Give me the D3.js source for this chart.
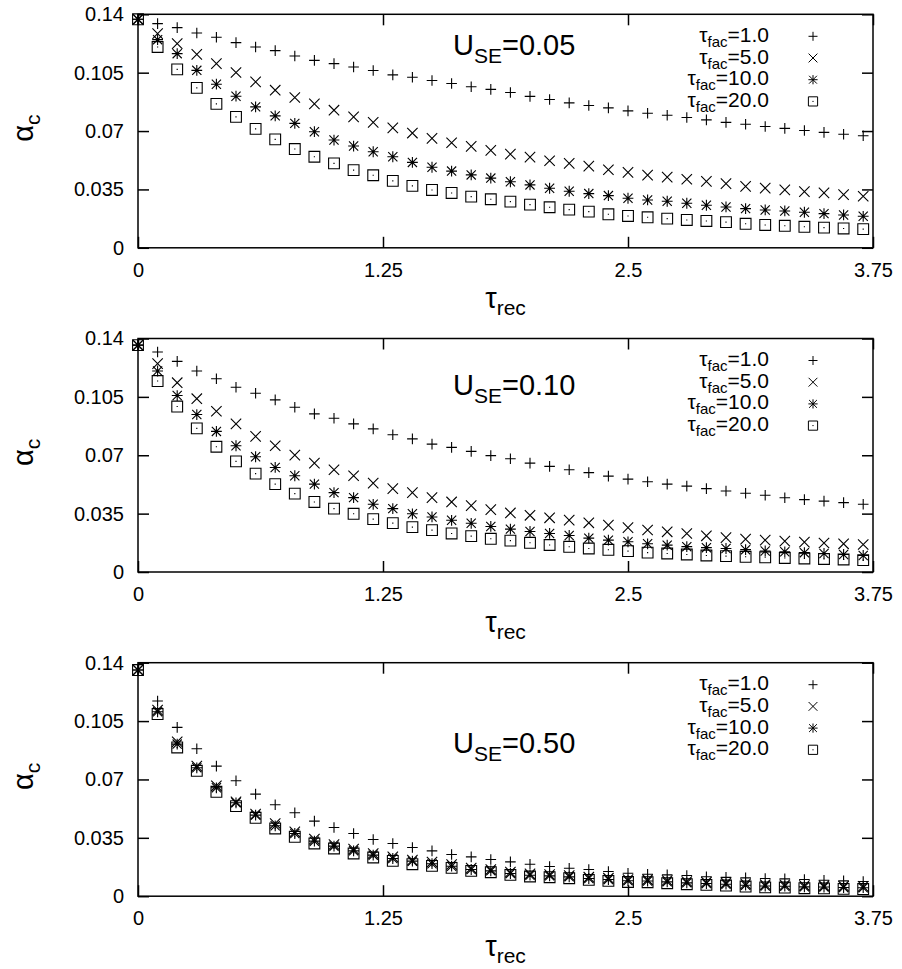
<!DOCTYPE html>
<html>
<head>
<meta charset="utf-8">
<script src="https://cdn.jsdelivr.net/npm/d3@7"></script>
<style>
    body { margin: 0; background: #fff; }
    svg text { font-family: "Liberation Sans", Arial, sans-serif; fill: #000; }
</style>
</head>
<body>
<svg id="chart" width="902" height="969"></svg>
<script>
// x grid (tau_rec) shared by every series
const tauRec = [0.0, 0.1, 0.2, 0.3, 0.4, 0.5, 0.6, 0.7, 0.8, 0.9, 1.0, 1.1, 1.2, 1.3, 1.4, 1.5, 1.6, 1.7, 1.8,
    1.9, 2.0, 2.1, 2.2, 2.3, 2.4, 2.5, 2.6, 2.7, 2.8, 2.9, 3.0, 3.1, 3.2, 3.3, 3.4, 3.5, 3.6, 3.7];

const xTicks = [0, 1.25, 2.5, 3.75];
const xTickLabels = ['0', '1.25', '2.5', '3.75'];
const yTicks = [0, 0.035, 0.07, 0.105, 0.14];
const yTickLabels = ['0', '0.035', '0.07', '0.105', '0.14'];

const useValues = ['0.05', '0.10', '0.50'];
const tauFac = ['1.0', '5.0', '10.0', '20.0'];

// U_SE = 0.05
const u05_f1 = [0.137, 0.1344, 0.132, 0.1288, 0.1262, 0.123, 0.1204, 0.1182, 0.115, 0.1124, 0.1104, 0.1084, 0.1063,
    0.1037, 0.1023, 0.1003, 0.0985, 0.0966, 0.095, 0.0931, 0.0908, 0.0889, 0.0869, 0.0853, 0.0839, 0.0821, 0.0807,
    0.0795, 0.0781, 0.0767, 0.0752, 0.0741, 0.0727, 0.0716, 0.0703, 0.0692, 0.0681, 0.0672];
const u05_f5 = [0.137, 0.1284, 0.1224, 0.116, 0.1104, 0.1051, 0.0995, 0.0945, 0.0901, 0.0863, 0.0825, 0.0785, 0.0752,
    0.0719, 0.0688, 0.0656, 0.063, 0.0608, 0.0584, 0.0562, 0.0544, 0.0522, 0.0506, 0.049, 0.0468, 0.0452, 0.0436,
    0.0424, 0.0411, 0.0398, 0.0385, 0.0368, 0.0358, 0.0347, 0.0337, 0.0329, 0.0319, 0.0309];
const u05_f10 = [0.137, 0.1248, 0.1164, 0.1064, 0.0981, 0.0909, 0.0845, 0.0791, 0.0746, 0.0696, 0.0646, 0.061, 0.0576,
    0.0546, 0.0512, 0.0483, 0.046, 0.0437, 0.0418, 0.0396, 0.0377, 0.0357, 0.0339, 0.0325, 0.0313, 0.0297, 0.0287,
    0.0279, 0.0267, 0.0255, 0.0245, 0.0235, 0.0227, 0.0221, 0.0213, 0.0205, 0.0197, 0.0189];
const u05_f20 = [0.137, 0.1204, 0.107, 0.0959, 0.0863, 0.0785, 0.0713, 0.065, 0.0592, 0.0546, 0.0506, 0.0466, 0.0435,
    0.0401, 0.0371, 0.0347, 0.0329, 0.0307, 0.0291, 0.0277, 0.0259, 0.0243, 0.0229, 0.0217, 0.0201, 0.0191, 0.0183,
    0.0175, 0.0167, 0.0161, 0.0154, 0.0144, 0.0137, 0.0132, 0.0126, 0.0121, 0.0116, 0.0112];

// U_SE = 0.10
const u10_f1 = [0.136, 0.1319, 0.1263, 0.1205, 0.1159, 0.1108, 0.1072, 0.1032, 0.0988, 0.0948, 0.0922, 0.0888, 0.0858,
    0.0823, 0.0798, 0.0767, 0.0747, 0.0723, 0.0698, 0.0679, 0.0653, 0.0633, 0.0613, 0.0596, 0.0575, 0.0557, 0.0541,
    0.0527, 0.0515, 0.05, 0.0486, 0.0472, 0.046, 0.0445, 0.0434, 0.0425, 0.0416, 0.0406];
const u10_f5 = [0.136, 0.1249, 0.1135, 0.1039, 0.0964, 0.0888, 0.0813, 0.0757, 0.0701, 0.0653, 0.0613, 0.0577, 0.0533,
    0.05, 0.0476, 0.0446, 0.042, 0.0398, 0.0374, 0.0354, 0.034, 0.0325, 0.0311, 0.0295, 0.0281, 0.0266, 0.0252,
    0.0241, 0.0231, 0.0217, 0.0206, 0.0197, 0.0191, 0.0185, 0.0179, 0.0174, 0.0169, 0.0165];
const u10_f10 = [0.136, 0.1205, 0.1058, 0.0944, 0.0843, 0.0757, 0.0691, 0.0627, 0.0577, 0.0527, 0.0476, 0.0446,
    0.0406, 0.038, 0.0349, 0.033, 0.031, 0.0292, 0.0273, 0.0257, 0.0243, 0.0231, 0.0219, 0.0203, 0.0191, 0.0181,
    0.0169, 0.0161, 0.0152, 0.0146, 0.0141, 0.0134, 0.0126, 0.0121, 0.0116, 0.0111, 0.0105, 0.0099];
const u10_f20 = [0.136, 0.1145, 0.0992, 0.0861, 0.0751, 0.0663, 0.059, 0.0527, 0.047, 0.042, 0.038, 0.0349, 0.0317,
    0.0293, 0.0269, 0.0251, 0.0231, 0.0215, 0.0199, 0.0188, 0.0175, 0.0162, 0.0151, 0.0141, 0.0133, 0.0125, 0.0116,
    0.0111, 0.0105, 0.0099, 0.0095, 0.0091, 0.0088, 0.0084, 0.0081, 0.0078, 0.0075, 0.0071];

// U_SE = 0.50
const u50_f1 = [0.1356, 0.117, 0.1012, 0.0884, 0.078, 0.0692, 0.0612, 0.0548, 0.05, 0.045, 0.0412, 0.0376, 0.034,
    0.0316, 0.0292, 0.0272, 0.025, 0.0236, 0.022, 0.0206, 0.0192, 0.0178, 0.0168, 0.016, 0.0148, 0.0138, 0.0132,
    0.0128, 0.0124, 0.0117, 0.0113, 0.011, 0.0106, 0.0104, 0.01, 0.0096, 0.0092, 0.0088];
const u50_f5 = [0.1356, 0.1116, 0.0926, 0.078, 0.0662, 0.0566, 0.0492, 0.0436, 0.0386, 0.0342, 0.031, 0.0282, 0.0256,
    0.0236, 0.0216, 0.0205, 0.019, 0.0168, 0.016, 0.0144, 0.0134, 0.013, 0.0124, 0.0114, 0.0108, 0.01, 0.0099,
    0.0094, 0.0088, 0.0084, 0.008, 0.0074, 0.0069, 0.0068, 0.0064, 0.0063, 0.006, 0.0059];
const u50_f10 = [0.1356, 0.1106, 0.0912, 0.077, 0.065, 0.056, 0.0486, 0.0422, 0.0376, 0.033, 0.03, 0.0272, 0.0246,
    0.0226, 0.021, 0.0195, 0.018, 0.016, 0.0152, 0.0136, 0.0126, 0.0122, 0.0116, 0.0106, 0.01, 0.0093, 0.0091,
    0.0086, 0.008, 0.0076, 0.0072, 0.0066, 0.0061, 0.006, 0.0056, 0.0055, 0.0052, 0.0051];
const u50_f20 = [0.1356, 0.1092, 0.0892, 0.0752, 0.0626, 0.054, 0.047, 0.0406, 0.0356, 0.0316, 0.0286, 0.0256, 0.0232,
    0.0212, 0.0192, 0.0182, 0.017, 0.0152, 0.0144, 0.0128, 0.0118, 0.0114, 0.0108, 0.0098, 0.0092, 0.0085, 0.0084,
    0.0078, 0.0072, 0.0068, 0.0064, 0.0058, 0.0053, 0.0052, 0.0048, 0.0047, 0.0044, 0.0043];

const panels = [
    { use: useValues[0], series: [u05_f1, u05_f5, u05_f10, u05_f20] },
    { use: useValues[1], series: [u10_f1, u10_f5, u10_f10, u10_f20] },
    { use: useValues[2], series: [u50_f1, u50_f5, u50_f10, u50_f20] }
];

// gnuplot-style point types, size = half width
const pointPlus = { draw(c, r) { c.moveTo(-r, 0); c.lineTo(r, 0); c.moveTo(0, -r); c.lineTo(0, r); } };
const pointTimes = { draw(c, r) { c.moveTo(-r, -r); c.lineTo(r, r); c.moveTo(-r, r); c.lineTo(r, -r); } };
const pointStar = { draw(c, r) {
    pointPlus.draw(c, r);
    pointTimes.draw(c, r * 0.85);
} };
const pointBox = { draw(c, r) {
    c.moveTo(-r, -r); c.lineTo(r, -r); c.lineTo(r, r); c.lineTo(-r, r); c.closePath();
    c.moveTo(-0.6, 0); c.lineTo(0.6, 0);
} };
const pointTypes = [pointPlus, pointTimes, pointStar, pointBox];
const pointSizes = [5.3, 5.2, 5.4, 5.4];

let frame = { left: 138, right: 873, top: 14.3, height: 233.5, step: 324.2 },
    useBaseline = [40.7, 56.7, 90.6],
    svg = d3.select('#chart');

let x = d3.scaleLinear()
    .domain([0, 3.75])
    .range([frame.left, frame.right]);

function drawPanel(panel, i) {
    let top = frame.top + i * frame.step,
        bottom = top + frame.height,
        y = d3.scaleLinear().domain([0, 0.14]).range([bottom, top]),
        g = svg.append('g');

    // inward ticks on all four sides
    g.append('g')
        .attr('transform', `translate(${frame.left},0)`)
        .call(d3.axisLeft(y).tickValues(yTicks).tickSize(-11).tickPadding(14)
            .tickFormat((d, k) => yTickLabels[k]));
    g.append('g')
        .attr('transform', `translate(${frame.right},0)`)
        .call(d3.axisRight(y).tickValues(yTicks).tickSize(-11).tickFormat(''));
    g.append('g')
        .attr('transform', `translate(0,${bottom})`)
        .call(d3.axisBottom(x).tickValues(xTicks).tickSize(-11).tickPadding(15)
            .tickFormat((d, k) => xTickLabels[k]));
    g.append('g')
        .attr('transform', `translate(0,${top})`)
        .call(d3.axisTop(x).tickValues(xTicks).tickSize(-11).tickFormat(''));

    g.selectAll('.domain').remove();
    g.selectAll('.tick line').attr('stroke', '#000').attr('stroke-width', 1.5);
    g.selectAll('.tick text').attr('font-size', 20).attr('font-family', '"Liberation Sans", Arial, sans-serif');

    g.append('rect')
        .attr('x', frame.left)
        .attr('y', top)
        .attr('width', frame.right - frame.left)
        .attr('height', frame.height)
        .attr('fill', 'none')
        .attr('stroke', '#000')
        .attr('stroke-width', 1.5);

    // points
    panel.series.forEach((vals, s) => {
        let sym = d3.symbol().type(pointTypes[s]).size(pointSizes[s]);
        g.append('g').selectAll('path')
            .data(vals)
            .enter()
            .append('path')
            .attr('transform', (d, k) => `translate(${x(tauRec[k])},${y(d)})`)
            .attr('d', sym)
            .attr('fill', 'none')
            .attr('stroke', '#000')
            .attr('stroke-width', 1.1);
    });

    // U_SE annotation
    let u = g.append('text')
        .attr('x', 453)
        .attr('y', top + useBaseline[i])
        .attr('font-size', 29);
    u.append('tspan').text('U');
    u.append('tspan').attr('font-size', 21).attr('dy', 8).text('SE');
    u.append('tspan').attr('dy', -8).text('=' + panel.use);

    // legend
    tauFac.forEach((f, s) => {
        let base = top + 27.5 + s * 21.7;
        let t = g.append('text')
            .attr('x', frame.right - 104)
            .attr('y', base)
            .attr('text-anchor', 'end')
            .attr('font-size', 21);
        t.append('tspan').text('τ');
        t.append('tspan').attr('font-size', 15).attr('dy', 5).text('fac');
        t.append('tspan').attr('dy', -5).text('=' + f);

        g.append('path')
            .attr('transform', `translate(${frame.right - 60},${base - 5.5})`)
            .attr('d', d3.symbol().type(pointTypes[s]).size(pointSizes[s] - 0.8))
            .attr('fill', 'none')
            .attr('stroke', '#000')
            .attr('stroke-width', 1);
    });

    // axis labels
    let xl = g.append('text')
        .attr('x', (frame.left + frame.right) / 2)
        .attr('y', bottom + 60)
        .attr('text-anchor', 'middle')
        .attr('font-size', 29);
    xl.append('tspan').text('τ');
    xl.append('tspan').attr('font-size', 21).attr('dy', 7).text('rec');

    let yl = g.append('text')
        .attr('transform', `translate(33,${top + frame.height / 2 - 3}) rotate(-90)`)
        .attr('text-anchor', 'middle')
        .attr('font-size', 29);
    yl.append('tspan').text('α');
    yl.append('tspan').attr('font-size', 21).attr('dy', 7).text('c');
}

panels.forEach(drawPanel);
</script>
</body>
</html>
